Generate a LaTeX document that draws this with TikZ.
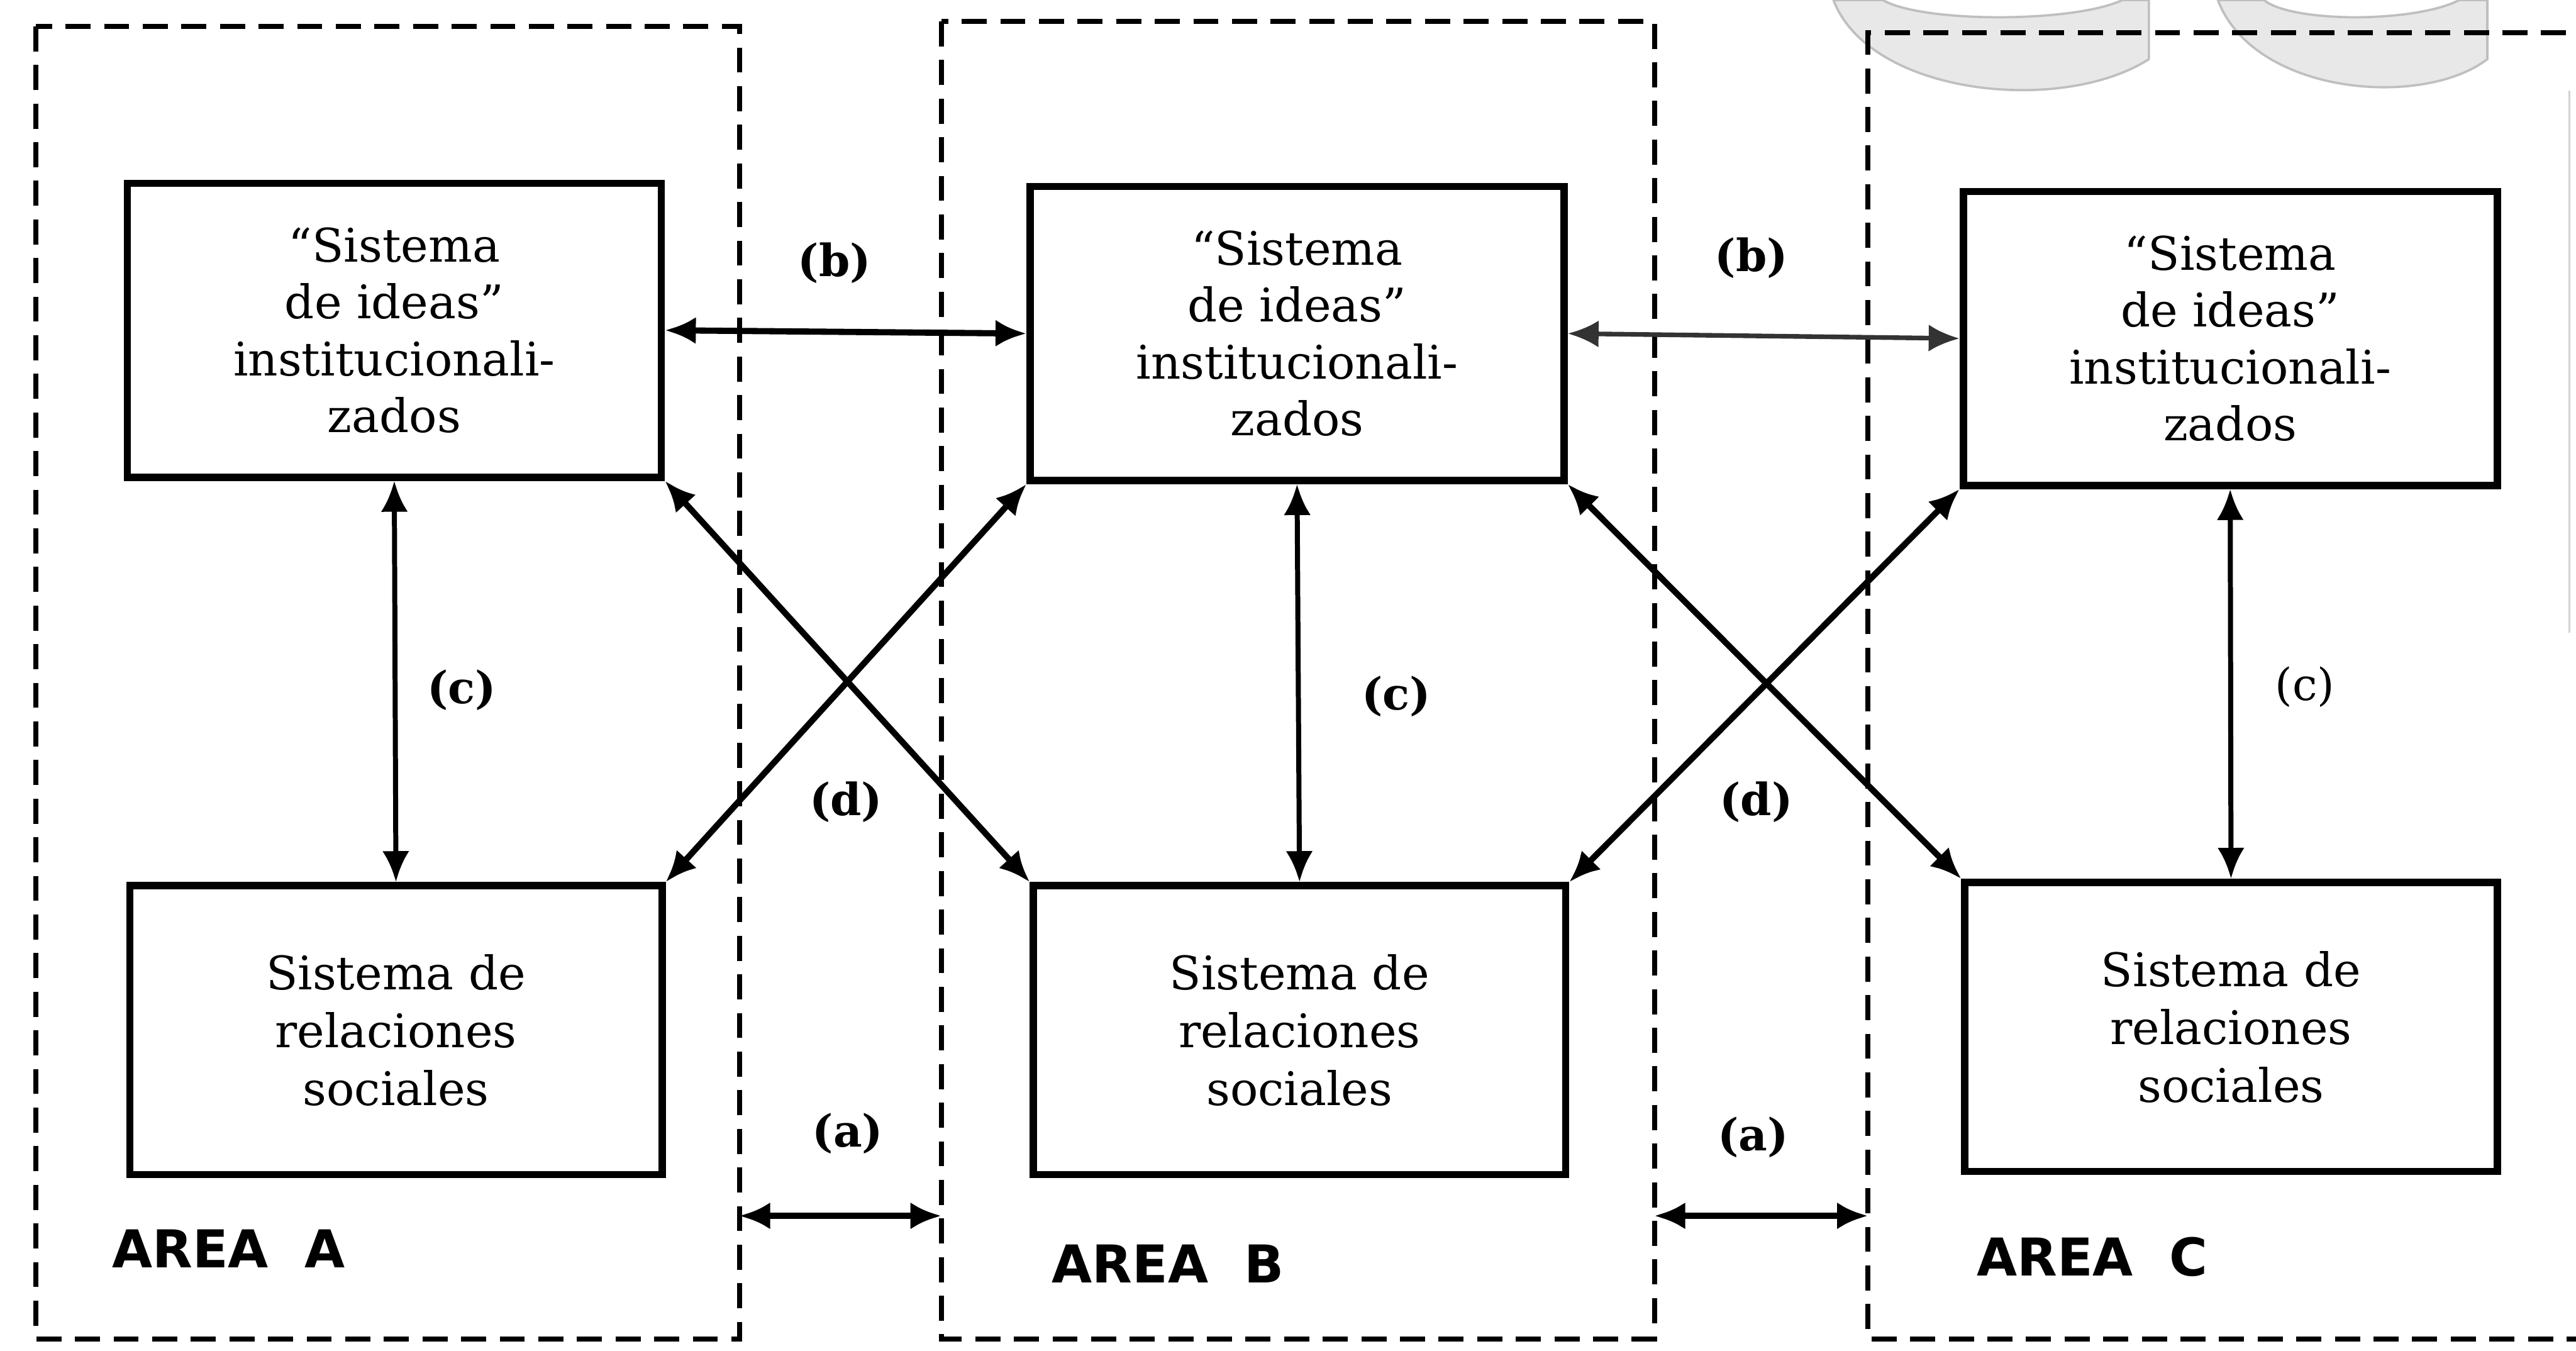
\documentclass[tikz,border=0pt]{standalone}
\usepackage{fontspec}
\setmainfont{DejaVu Serif}
\newfontfamily\areafont{DejaVu Sans}
\usetikzlibrary{arrows.meta}
\begin{document}
\begin{tikzpicture}[x=0.029904cm,y=-0.029904cm,
  >={Latex[length=16pt,width=14pt]},
  tbox/.style={draw, line width=3.8pt, rectangle, minimum width=9.72cm, minimum height=5.35cm, align=center, inner sep=0pt, font=\fontsize{24}{29.5}\selectfont},
  bbox/.style={draw, line width=3.8pt, rectangle, minimum width=9.69cm, minimum height=5.26cm, align=center, inner sep=0pt, font=\fontsize{24}{30}\selectfont},
  arealine/.style={line width=2.6pt, dash pattern=on 13pt off 7pt},
  conn/.style={<->, line width=3.2pt},
  vconn/.style={<->, line width=2.6pt},
  lab/.style={font=\fontsize{23}{27}\selectfont\bfseries, inner sep=0pt},
  arealab/.style={font=\areafont\bfseries\fontsize{27}{30}\selectfont, anchor=west, inner sep=0pt},
  wm/.style={fill=gray!18, draw=gray!50, line width=1.2pt}]
\useasboundingbox (0,0) rectangle (1568,822);
\fill[white] (0,0) rectangle (1568,822);
% watermark shapes at top right
\filldraw[wm] (1116,0) .. controls (1138,58) and (1255,70) .. (1308,36) -- (1308,0) -- (1292,0) .. controls (1262,14) and (1170,14) .. (1146,0) -- cycle;
\filldraw[wm] (1350,0) .. controls (1372,58) and (1475,66) .. (1514,36) -- (1514,0) -- (1497,0) .. controls (1470,14) and (1395,14) .. (1378,0) -- cycle;
\draw[gray!35, line width=1pt] (1564,55) -- (1564,385);
% dashed areas
\draw[arealine] (22,16) rectangle (450,815);
\draw[arealine] (573,13) rectangle (1007,815);
\draw[arealine] (1562,20) -- (1137,20) -- (1137,815) -- (1568,815);
\coordinate (aAr) at (450,740);
\coordinate (aBl) at (573,740);
\coordinate (aBr) at (1007,740);
\coordinate (aCl) at (1137,740);
% boxes
\node[tbox] (tA) at (240,201) {``Sistema\\de ideas''\\institucionali-\\zados};
\node[tbox] (tB) at (789.5,203) {``Sistema\\de ideas''\\institucionali-\\zados};
\node[tbox] (tC) at (1357.5,206) {``Sistema\\de ideas''\\institucionali-\\zados};
\node[bbox] (bA) at (241,627) {Sistema de\\relaciones\\sociales};
\node[bbox] (bB) at (791,627) {Sistema de\\relaciones\\sociales};
\node[bbox] (bC) at (1358,625) {Sistema de\\relaciones\\sociales};
% connectors
\draw[conn] (tA.east) -- (tB.west);
\draw[conn, black!80, line width=2.4pt] (tB.east) -- (tC.west);
\draw[vconn] (tA.south) -- (bA.north);
\draw[vconn] (tB.south) -- (bB.north);
\draw[vconn] (tC.south) -- (bC.north);
\draw[conn] (tA.south east) -- (bB.north west);
\draw[conn] (bA.north east) -- (tB.south west);
\draw[conn] (tB.south east) -- (bC.north west);
\draw[conn] (bB.north east) -- (tC.south west);
\draw[conn] (aAr) -- (aBl);
\draw[conn] (aBr) -- (aCl);
% labels
\node[lab] (lb1) at (508,160) {(b)};
\node[lab] (lb2) at (1066,157) {(b)};
\node[lab] (lc1) at (281,420) {(c)};
\node[lab] (lc2) at (850,424) {(c)};
\node[lab, font=\fontsize{23}{27}\selectfont] (lc3) at (1403,418) {(c)};
\node[lab] (ld1) at (515,488) {(d)};
\node[lab] (ld2) at (1069,488) {(d)};
\node[lab] (la1) at (516,690) {(a)};
\node[lab] (la2) at (1067,692) {(a)};
\node[arealab] (arA) at (68,760) {AREA\ \ A};
\node[arealab] (arB) at (640,769) {AREA\ \ B};
\node[arealab] (arC) at (1203,765) {AREA\ \ C};
\end{tikzpicture}
\end{document}
